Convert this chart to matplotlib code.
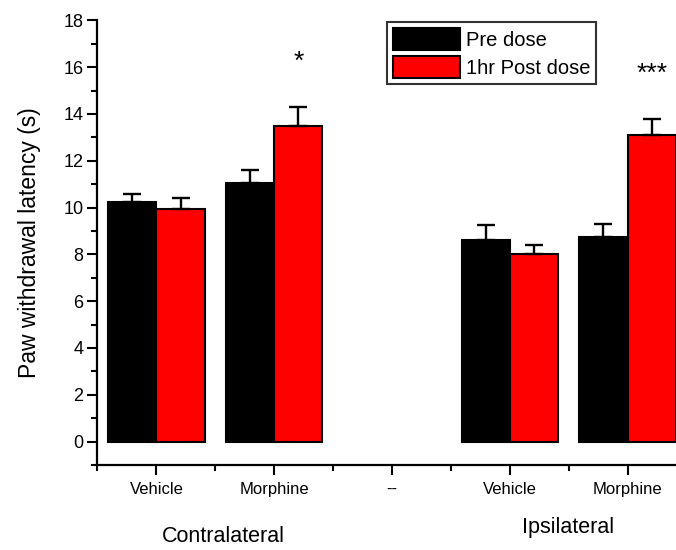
import matplotlib
matplotlib.use("Agg")
import matplotlib.pyplot as plt
import numpy as np
from matplotlib.ticker import FixedLocator

plt.rcParams['font.family'] = ['Liberation Sans', 'DejaVu Sans']

categories = ["Vehicle", "Morphine", "--", "Vehicle", "Morphine"]
pre_dose = [10.25, 11.05, np.nan, 8.6, 8.75]
pre_err = [0.35, 0.55, np.nan, 0.65, 0.55]
post_dose = [9.95, 13.5, np.nan, 8.0, 13.1]
post_err = [0.45, 0.8, np.nan, 0.4, 0.7]
sig_labels = ["", "*", "", "", "***"]
group_labels = ["Contralateral", "Ipsilateral"]
series_names = ["Pre dose", "1hr Post dose"]

fig = plt.figure(figsize=(6.76, 5.5), dpi=100)
ax = fig.add_axes([97.5/676, 85/550, 589/676, 444.6/550])

x = np.arange(len(categories))
w = 0.41
ekw = dict(ecolor='black', elinewidth=1.7, capsize=6.5, capthick=1.7)
ax.bar(x - w/2, pre_dose, w, color='black', edgecolor='black', linewidth=1.5,
       yerr=[np.zeros(len(x)), pre_err], error_kw=ekw, label=series_names[0])
ax.bar(x + w/2, post_dose, w, color='#ff0000', edgecolor='black', linewidth=1.5,
       yerr=[np.zeros(len(x)), post_err], error_kw=ekw, label=series_names[1])

for i, s in enumerate(sig_labels):
    if s:
        ax.text(x[i] + w/2, post_dose[i] + post_err[i] + 1.4, s, ha='center', va='bottom',
                fontsize=19)

ax.set_xlim(-0.5, 4.5)
ax.set_ylim(-1, 18)
ax.yaxis.set_major_locator(FixedLocator(np.arange(0, 19, 2)))
ax.yaxis.set_minor_locator(FixedLocator(np.arange(-1, 19, 1)))
ax.set_xticks(x)
ax.set_xticklabels(categories, fontsize=12)
ax.xaxis.set_minor_locator(FixedLocator(np.arange(-0.5, 5, 1)))
ax.tick_params(axis='y', which='major', labelsize=13, length=7, width=1.5, direction='out', pad=3)
ax.tick_params(axis='y', which='minor', length=4, width=1.5, direction='out')
ax.tick_params(axis='x', which='major', length=7, width=1.5, direction='out', pad=5)
ax.tick_params(axis='x', which='minor', length=4, width=1.5, direction='out')
for sp in ['top', 'right']:
    ax.spines[sp].set_visible(False)
for sp in ['left', 'bottom']:
    ax.spines[sp].set_linewidth(1.6)

ax.set_ylabel("Paw withdrawal latency (s)", fontsize=16.5, labelpad=16)

fig.text(223/676, 1 - 537/550, group_labels[0], ha='center', va='center', fontsize=15.5)
fig.text(568/676, 1 - 528/550, group_labels[1], ha='center', va='center', fontsize=15.5)

leg = ax.legend(loc='upper left', bbox_to_anchor=(387/676, 1 - 22/550),
                bbox_transform=fig.transFigure, fontsize=14.5, frameon=True, fancybox=False,
                edgecolor='black', borderpad=0.3, handlelength=3.3, handleheight=1.3,
                handletextpad=0.3, labelspacing=0.3, borderaxespad=0)
leg.get_frame().set_linewidth(1.5)

fig.savefig("out.png", dpi=100)
